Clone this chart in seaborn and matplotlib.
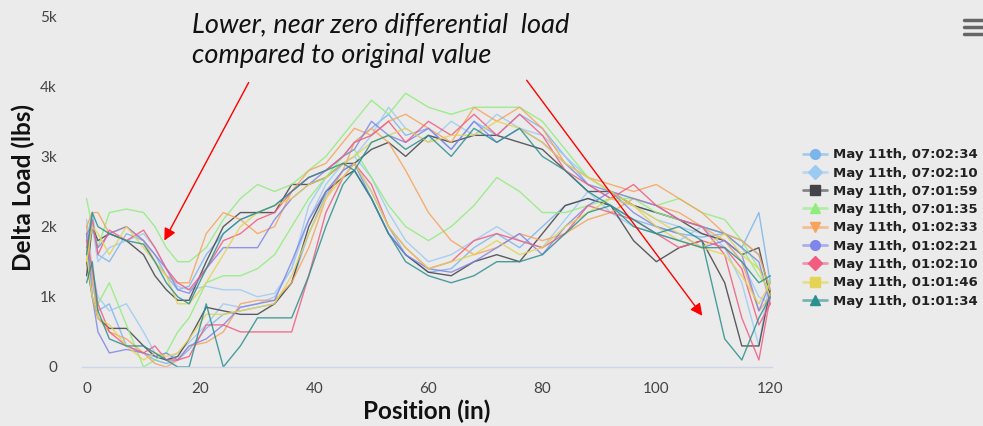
import pandas as pd
import seaborn as sns
import matplotlib
matplotlib.use('Agg')
from matplotlib import pyplot as plt
from matplotlib.lines import Line2D
from matplotlib.colors import to_rgba

# posiciones comunes (in)
pos = [0, 1, 2, 4, 7, 10, 12, 14, 16, 18, 21, 24, 27, 30, 33, 36, 39, 42, 45, 47,
       50, 53, 56, 60, 64, 68, 72, 76, 80, 84, 88, 92, 96, 100, 104, 108, 112, 115, 118, 120]

series_names = ['May 11th, 07:02:34', 'May 11th, 07:02:10', 'May 11th, 07:01:59',
                'May 11th, 07:01:35', 'May 11th, 01:02:33', 'May 11th, 01:02:21',
                'May 11th, 01:02:10', 'May 11th, 01:01:46', 'May 11th, 01:01:34']
series_colors = ['#7cb5ec', '#9ccaf3', '#434348', '#90ed7d', '#f7a35c',
                 '#8085e9', '#f15c80', '#e4d354', '#2b908f']
series_markers = ['o', 'D', 's', '^', 'v', 'o', 'D', 's', '^']

# carga diferencial (k lbs), traza superior y traza inferior de cada serie
upper_1 = [1.8, 2.2, 1.6, 1.5, 1.9, 1.8, 1.6, 1.3, 1.1, 1.15, 1.6, 1.9, 2.1, 2.2, 2.3, 2.5, 2.7, 2.8, 3.0, 3.2,
           3.4, 3.6, 3.3, 3.4, 3.1, 3.5, 3.3, 3.6, 3.4, 3.0, 2.6, 2.4, 2.3, 2.2, 2.1, 2.0, 1.9, 1.8, 1.6, 1.1]
lower_1 = [1.9, 1.2, 0.8, 0.9, 0.3, 0.2, 0.1, 0.05, 0.1, 0.25, 0.55, 0.75, 0.8, 0.85, 0.9, 1.2, 1.9, 2.45, 2.8, 2.9,
           2.5, 2.0, 1.6, 1.35, 1.4, 1.7, 1.9, 1.7, 2.0, 2.3, 2.4, 2.3, 2.1, 2.0, 1.9, 1.85, 1.9, 1.7, 2.2, 1.2]
upper_2 = [1.6, 2.0, 1.5, 1.7, 1.8, 1.9, 1.7, 1.4, 1.15, 1.1, 1.15, 1.1, 1.1, 1.0, 1.05, 1.4, 2.3, 2.7, 2.9, 3.0,
           3.3, 3.7, 3.4, 3.2, 3.5, 3.3, 3.6, 3.4, 3.3, 3.0, 2.7, 2.5, 2.3, 2.1, 2.0, 1.9, 1.8, 1.5, 1.0, 0.9]
lower_2 = [2.1, 1.4, 1.0, 0.8, 0.9, 0.5, 0.2, 0.1, 0.2, 0.35, 0.6, 0.9, 0.85, 0.9, 1.0, 1.4, 2.1, 2.6, 2.9, 3.0,
           2.7, 2.2, 1.8, 1.5, 1.6, 1.8, 2.0, 1.8, 1.7, 2.1, 2.5, 2.2, 2.0, 1.9, 1.8, 2.0, 1.7, 1.2, 0.3, 1.3]
upper_3 = [1.3, 2.0, 1.8, 1.9, 1.8, 1.6, 1.3, 1.1, 0.95, 0.95, 1.5, 2.0, 2.2, 2.2, 2.2, 2.6, 2.6, 2.7, 2.9, 2.9,
           3.1, 3.2, 3.0, 3.3, 3.2, 3.3, 3.3, 3.2, 3.1, 2.8, 2.5, 2.5, 2.3, 2.2, 2.1, 1.9, 1.8, 1.6, 1.7, 1.0]
lower_3 = [1.5, 1.0, 0.7, 0.55, 0.55, 0.3, 0.15, 0.1, 0.15, 0.4, 0.85, 0.8, 0.75, 0.75, 0.9, 1.2, 2.0, 2.5, 2.7, 2.8,
           2.4, 1.9, 1.6, 1.35, 1.3, 1.5, 1.6, 1.5, 1.9, 2.3, 2.4, 2.3, 1.8, 1.5, 1.7, 1.8, 1.2, 0.3, 0.3, 1.1]
upper_4 = [2.4, 2.0, 1.7, 2.2, 2.25, 2.2, 2.0, 1.7, 1.5, 1.5, 1.7, 2.1, 2.4, 2.6, 2.5, 2.6, 2.8, 3.0, 3.3, 3.5,
           3.8, 3.6, 3.9, 3.7, 3.6, 3.7, 3.7, 3.7, 3.5, 3.1, 2.7, 2.5, 2.4, 2.3, 2.4, 2.2, 2.1, 1.8, 1.4, 1.2]
lower_4 = [1.7, 1.0, 0.9, 1.2, 0.6, 0.0, 0.1, 0.2, 0.5, 0.7, 1.2, 1.3, 1.3, 1.4, 1.6, 2.0, 2.4, 2.7, 3.0, 3.1,
           2.7, 2.3, 2.0, 1.8, 2.0, 2.3, 2.7, 2.5, 2.2, 2.2, 2.3, 2.4, 2.4, 2.2, 2.1, 2.0, 1.9, 1.7, 1.3, 1.1]
upper_5 = [2.0, 2.2, 2.2, 1.9, 2.0, 1.8, 1.5, 1.3, 1.2, 1.2, 1.9, 2.2, 2.1, 1.9, 2.0, 2.5, 2.8, 2.9, 3.2, 3.4,
           3.3, 3.5, 3.6, 3.4, 3.2, 3.7, 3.5, 3.7, 3.4, 2.9, 2.7, 2.6, 2.5, 2.6, 2.4, 2.2, 1.9, 1.8, 1.6, 1.1]
lower_5 = [2.0, 1.3, 0.7, 0.5, 0.4, 0.2, 0.05, 0.0, 0.1, 0.3, 0.35, 0.5, 0.9, 0.95, 0.95, 1.2, 1.7, 2.4, 2.8, 3.2,
           3.4, 3.2, 2.8, 2.2, 1.8, 1.6, 1.7, 1.9, 1.8, 1.9, 2.1, 2.2, 2.4, 2.3, 2.2, 2.0, 1.8, 1.5, 0.8, 1.0]
upper_6 = [1.9, 2.0, 1.7, 1.9, 2.0, 1.8, 1.6, 1.4, 1.1, 1.05, 1.4, 1.7, 1.7, 1.7, 2.1, 2.4, 2.6, 2.8, 3.0, 3.1,
           3.5, 3.3, 3.2, 3.4, 3.1, 3.5, 3.2, 3.4, 3.2, 2.9, 2.6, 2.5, 2.4, 2.3, 2.1, 2.0, 1.9, 1.7, 1.5, 0.9]
lower_6 = [1.9, 1.0, 0.5, 0.2, 0.25, 0.2, 0.15, 0.2, 0.1, 0.3, 0.4, 0.6, 0.85, 0.9, 0.95, 1.5, 2.1, 2.5, 2.8, 2.9,
           2.4, 1.9, 1.6, 1.4, 1.35, 1.5, 1.7, 1.9, 1.6, 2.0, 2.3, 2.5, 2.2, 2.0, 1.9, 1.7, 1.8, 1.6, 0.8, 1.2]
upper_7 = [1.7, 2.1, 1.6, 1.95, 1.8, 1.95, 1.7, 1.4, 1.2, 1.1, 1.4, 1.8, 1.9, 2.1, 2.2, 2.5, 2.7, 2.8, 3.0, 3.2,
           3.3, 3.5, 3.2, 3.5, 3.3, 3.6, 3.3, 3.6, 3.3, 2.8, 2.6, 2.4, 2.6, 2.3, 2.1, 2.0, 1.6, 0.7, 0.1, 1.0]
lower_7 = [1.8, 1.4, 0.9, 0.5, 0.3, 0.2, 0.3, 0.1, 0.1, 0.15, 0.6, 0.6, 0.5, 0.5, 0.5, 0.5, 1.3, 2.2, 2.7, 2.9,
           2.6, 2.0, 1.7, 1.4, 1.5, 1.8, 1.9, 1.8, 1.7, 1.9, 2.3, 2.2, 2.1, 1.9, 1.7, 1.8, 1.7, 1.4, 0.6, 0.9]
upper_8 = [1.5, 2.0, 1.9, 1.6, 2.0, 1.7, 1.5, 1.3, 0.9, 0.9, 1.2, 1.6, 2.0, 2.2, 2.3, 2.4, 2.6, 2.7, 2.9, 3.0,
           3.2, 3.3, 3.4, 3.2, 3.3, 3.3, 3.5, 3.4, 3.2, 2.9, 2.7, 2.5, 2.3, 2.1, 1.9, 1.7, 1.9, 1.6, 1.4, 1.0]
lower_8 = [1.6, 1.0, 0.7, 0.6, 0.3, 0.1, 0.2, 0.15, 0.2, 0.4, 0.75, 0.75, 0.8, 0.85, 0.9, 1.3, 1.9, 2.4, 2.7, 2.9,
           2.5, 2.0, 1.7, 1.4, 1.5, 1.6, 1.8, 1.6, 1.7, 2.0, 2.2, 2.4, 2.3, 2.0, 1.8, 1.7, 1.6, 1.3, 0.9, 1.2]
upper_9 = [1.6, 2.2, 2.0, 1.9, 1.8, 1.75, 1.5, 1.2, 1.0, 0.9, 1.4, 1.9, 2.1, 2.2, 2.3, 2.5, 2.7, 2.8, 2.9, 2.8,
           3.2, 3.3, 3.1, 3.3, 3.0, 3.4, 3.2, 3.4, 3.0, 2.8, 2.5, 2.3, 2.0, 1.9, 2.0, 1.8, 0.4, 0.1, 0.7, 1.0]
lower_9 = [1.2, 1.5, 0.8, 0.4, 0.3, 0.3, 0.2, 0.1, 0.0, 0.0, 0.9, 0.0, 0.3, 0.7, 0.7, 0.7, 1.3, 2.0, 2.6, 2.8,
           2.4, 1.9, 1.5, 1.3, 1.2, 1.3, 1.5, 1.5, 1.6, 1.9, 2.2, 2.3, 2.1, 1.9, 1.8, 1.7, 1.7, 1.5, 1.2, 1.3]

uppers = [upper_1, upper_2, upper_3, upper_4, upper_5, upper_6, upper_7, upper_8, upper_9]
lowers = [lower_1, lower_2, lower_3, lower_4, lower_5, lower_6, lower_7, lower_8, lower_9]

# se arma el DataFrame en formato largo
rows = []
for name, up, lo in zip(series_names, uppers, lowers):
    for p, v in zip(pos, up):
        rows.append({'position': p, 'load': v, 'series': name, 'trace': name + ' up'})
    for p, v in zip(pos, lo):
        rows.append({'position': p, 'load': v, 'series': name, 'trace': name + ' low'})
df = pd.DataFrame(rows)

bg = '#ebebeb'
sns.set_style('white')
plt.rcParams['font.family'] = ['Lato', 'DejaVu Sans']

fig = plt.figure(figsize=(9.83, 4.26), dpi=100, facecolor=bg)
ax = fig.add_axes([82 / 983, 1 - 367 / 426, 690 / 983, 351 / 426])
ax.set_facecolor(bg)

palette = dict(zip(series_names, series_colors))
sns.lineplot(data=df, x='position', y='load', hue='series', units='trace',
             estimator=None, palette=palette, linewidth=1.0, alpha=0.85,
             legend=False, ax=ax)

ax.set_xlim(-0.8, 120.3)
ax.set_ylim(0, 5)
ax.set_xticks([0, 20, 40, 60, 80, 100, 120])
ax.set_yticks([0, 1, 2, 3, 4, 5])
ax.set_yticklabels(['0', '1k', '2k', '3k', '4k', '5k'])
for s in ['top', 'right', 'left']:
    ax.spines[s].set_visible(False)
ax.spines['bottom'].set_color('#ccd6eb')
ax.spines['bottom'].set_linewidth(1)
ax.tick_params(axis='x', colors='#ccd6eb', length=8, width=1, labelcolor='#444444', labelsize=11, pad=3)
ax.tick_params(axis='y', length=0, labelcolor='#444444', labelsize=11, pad=18)
ax.set_xlabel('Position (in)', fontsize=17.5, fontweight='bold', color='#111111')
ax.set_ylabel('Delta Load (lbs)', fontsize=17.5, fontweight='bold', color='#111111')
ax.xaxis.set_label_coords(0.5, -0.092)
ax.yaxis.set_label_coords(-0.068, 0.51)
ax.grid(False)

# leyenda
handles = [Line2D([0], [0], color=to_rgba(c, 0.6), marker=m, markersize=7, linewidth=2,
                  markerfacecolor=c, markeredgecolor=c)
           for c, m in zip(series_colors, series_markers)]
leg = fig.legend(handles, series_names, loc='upper left', bbox_to_anchor=(798 / 983, 1 - 143 / 426),
                 frameon=False, prop={'family': 'DejaVu Sans', 'weight': 'bold', 'size': 9.5},
                 handlelength=1.8, handletextpad=0.45, labelspacing=0.4, borderaxespad=0)
for t in leg.get_texts():
    t.set_color('#222222')

# anotaciones
fig.text(192 / 983, 1 - 32 / 426, 'Lower, near zero differential  load', fontsize=19.5,
         style='italic', color='#111111', va='baseline')
fig.text(192 / 983, 1 - 63 / 426, 'compared to original value', fontsize=19.5,
         style='italic', color='#111111', va='baseline')
ax.annotate('', xy=(163, 426 - 243), xycoords='figure pixels', xytext=(250, 426 - 80),
            textcoords='figure pixels',
            arrowprops=dict(arrowstyle='-|>', color='red', lw=1, mutation_scale=18))
ax.annotate('', xy=(704, 426 - 318), xycoords='figure pixels', xytext=(525, 426 - 78),
            textcoords='figure pixels',
            arrowprops=dict(arrowstyle='-|>', color='red', lw=1, mutation_scale=18))

# icono de menú
for yy in [20, 27, 34]:
    fig.add_artist(Line2D([964 / 983, 1.0], [1 - yy / 426, 1 - yy / 426],
                          transform=fig.transFigure, color='#666666', lw=2.5))

plt.savefig('out.png', dpi=100, facecolor=bg)
